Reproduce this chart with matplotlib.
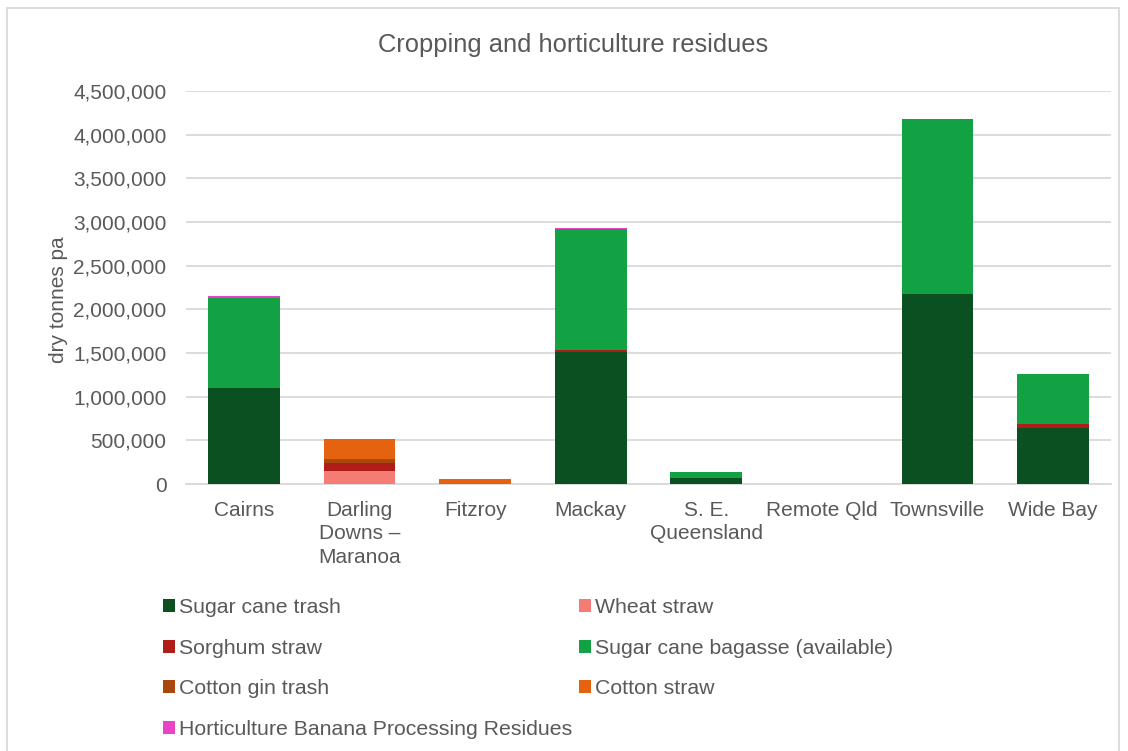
import numpy as np
import matplotlib
matplotlib.use("Agg")
import matplotlib.pyplot as plt
from matplotlib.patches import Rectangle
from matplotlib.ticker import FuncFormatter

plt.rcParams['font.family'] = ['Liberation Sans', 'DejaVu Sans']

regions = ["Cairns", "Darling\nDowns \u2013\nMaranoa", "Fitzroy", "Mackay",
           "S. E.\nQueensland", "Remote Qld", "Townsville", "Wide Bay"]

# dry tonnes pa
sugar_cane_trash = [1100000, 0, 0, 1515000, 70000, 0, 2175000, 645000]
wheat_straw = [0, 150000, 0, 0, 0, 0, 0, 0]
sorghum_straw = [0, 90000, 0, 15000, 0, 0, 0, 38000]
bagasse = [1030000, 0, 0, 1390000, 65000, 0, 2005000, 580000]
cotton_gin_trash = [0, 45000, 0, 0, 0, 0, 0, 0]
cotton_straw = [0, 225000, 55000, 0, 0, 0, 0, 0]
banana = [25000, 0, 0, 9000, 0, 0, 0, 0]

series = [
    ("Sugar cane trash", sugar_cane_trash, "#0A5020"),
    ("Wheat straw", wheat_straw, "#F47C74"),
    ("Sorghum straw", sorghum_straw, "#B01C17"),
    ("Sugar cane bagasse (available)", bagasse, "#12A243"),
    ("Cotton gin trash", cotton_gin_trash, "#A9480E"),
    ("Cotton straw", cotton_straw, "#E5620F"),
    ("Horticulture Banana Processing Residues", banana, "#E844C8"),
]

text_col = "#595959"
grid_col = "#D9D9D9"

fig = plt.figure(figsize=(11.28, 7.51), dpi=100)
ax = fig.add_axes([186 / 1128, 1 - 484 / 751, 925 / 1128, 393 / 751])

x = np.arange(len(regions))
bottom = np.zeros(len(regions))
handles = {}
for name, vals, col in series:
    vals = np.array(vals, dtype=float)
    b = ax.bar(x, vals, 0.62, bottom=bottom, color=col, label=name, zorder=3)
    handles[name] = b
    bottom += vals

ax.set_xlim(-0.5, len(regions) - 0.5)
ax.set_ylim(0, 4500000)
ax.set_yticks(np.arange(0, 4500001, 500000))
ax.yaxis.set_major_formatter(FuncFormatter(lambda v, p: f"{int(v):,}"))
ax.set_xticks(x)
ax.set_xticklabels(regions, linespacing=1.3)
ax.tick_params(axis="both", length=0, labelsize=15, labelcolor=text_col)
ax.tick_params(axis="y", pad=14)
ax.tick_params(axis="x", pad=12)
ax.grid(axis="y", color=grid_col, linewidth=1.3, zorder=0)
for s in ["top", "right", "left"]:
    ax.spines[s].set_visible(False)
ax.spines["bottom"].set_color(grid_col)
ax.spines["bottom"].set_linewidth(1.3)

ax.set_ylabel("dry tonnes pa", fontsize=15, color=text_col)
ax.yaxis.set_label_coords(-0.128, 0.47)

fig.text(573 / 1128, 1 - 45 / 751, "Cropping and horticulture residues",
         ha="center", va="center", fontsize=18.4, color=text_col)

# Excel fills the legend row by row; matplotlib fills columns
order = ["Sugar cane trash", "Sorghum straw", "Cotton gin trash",
         "Horticulture Banana Processing Residues",
         "Wheat straw", "Sugar cane bagasse (available)", "Cotton straw"]
leg = fig.legend([handles[n] for n in order], order, ncol=2,
                 loc="upper left", bbox_to_anchor=(163 / 1128, 1 - 598 / 751),
                 frameon=False, fontsize=15.3, handlelength=0.55, handleheight=0.55,
                 handletextpad=0.2, columnspacing=0.33, labelspacing=1.02,
                 borderpad=0, borderaxespad=0)
for t in leg.get_texts():
    t.set_color(text_col)

fig.patches.append(Rectangle((7 / 1128, -0.05), 1112 / 1128, 1.05 - 8 / 751,
                             transform=fig.transFigure, fill=False,
                             edgecolor=grid_col, linewidth=1.3))

fig.savefig("out.png", dpi=100)
